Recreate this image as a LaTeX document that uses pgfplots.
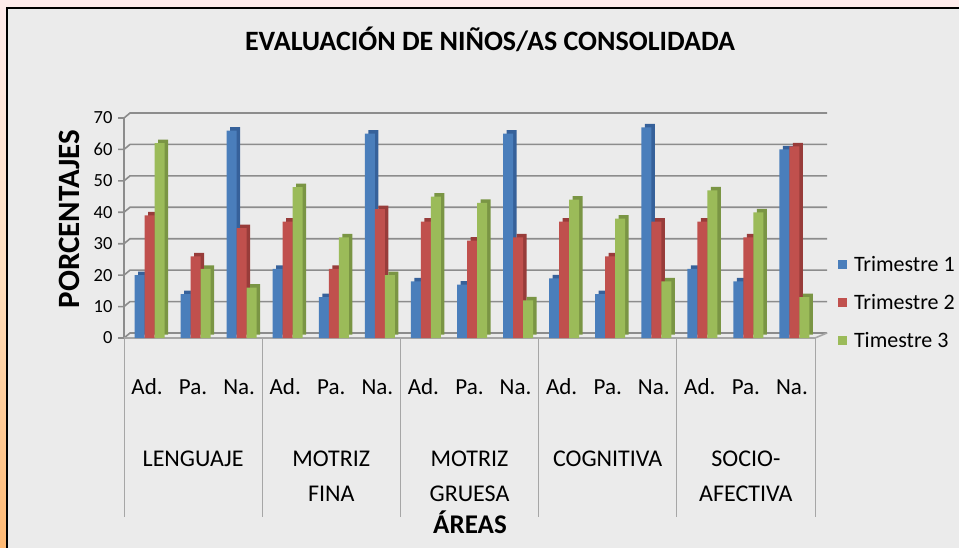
\documentclass[border=0pt]{standalone}
\usepackage{fontspec}
\setmainfont{Carlito}
\usepackage{pgfplots}
\usepackage{pgfplotstable}
\pgfplotsset{compat=1.18}

\definecolor{fondo}{HTML}{EBEBEB}
\definecolor{rejilla}{HTML}{8C8C8C}
\definecolor{separa}{HTML}{A6A6A6}
\definecolor{azul}{HTML}{4A7EBB}
\definecolor{azulosc}{HTML}{36619A}
\definecolor{rojo}{HTML}{C0504D}
\definecolor{rojoosc}{HTML}{983C3A}
\definecolor{verde}{HTML}{9BBB59}
\definecolor{verdeosc}{HTML}{7A9544}

% porcentajes por subcategoria (Ad., Pa., Na. de cada area)
\pgfplotstableread{
x  t1 t2 t3
0  20 39 62
1  14 26 22
2  66 35 16
3  22 37 48
4  13 22 32
5  65 41 20
6  18 37 45
7  17 31 43
8  65 32 12
9  19 37 44
10 14 26 38
11 67 37 18
12 22 37 47
13 18 32 40
14 60 61 13
}\datos

\begin{document}
\begin{tikzpicture}
\useasboundingbox (0pt,0pt) rectangle (959pt,547pt);
% marco exterior y area del grafico
\shade[top color=pink!30, bottom color=orange!55, middle color=orange!25] (0pt,-3pt) rectangle (962pt,547pt);
\fill[fondo] (7pt,-3pt) rectangle (962pt,539pt);
\draw[black, line width=1.2pt] (7pt,-3pt) -- (7pt,539pt) -- (962pt,539pt);

\node[font=\bfseries\fontsize{28}{32}\selectfont, anchor=base] at (490pt,496pt)
  {EVALUACIÓN DE NIÑOS/AS CONSOLIDADA};
\node[rotate=90, font=\bfseries\fontsize{31}{34}\selectfont] at (69pt,328pt) {PORCENTAJES};
\node[font=\bfseries\fontsize{27}{32}\selectfont, anchor=base] at (470pt,14pt) {ÁREAS};

\begin{axis}[
    at={(124pt,209pt)}, anchor=south west,
    scale only axis,
    width=691pt, height=220pt,
    xmin=-0.5, xmax=14.5,
    ymin=0, ymax=70,
    ytick={0,10,...,70},
    xtick={0,...,14},
    xticklabels={Ad.,Pa.,Na.,Ad.,Pa.,Na.,Ad.,Pa.,Na.,Ad.,Pa.,Na.,Ad.,Pa.,Na.},
    major tick length=0pt,
    axis line style={draw=none},
    clip=false,
    /pgf/number format/assume math mode=true,
    yticklabel style={font=\fontsize{18.5}{22}\selectfont, anchor=east, xshift=-8pt},
    xticklabel style={font=\fontsize{23}{27}\selectfont, anchor=base, yshift=-56pt},
    bar width=10pt,
    legend cell align=left,
    legend style={at={(axis description cs:1.033,0.372)}, anchor=north west,
        draw=none, fill=none, font=\fontsize{22}{26}\selectfont,
        row sep=21.5pt, inner sep=0pt, nodes={inner xsep=7pt, inner ysep=0pt}},
    legend image code/.code={\fill[#1] (0pt,-4.5pt) rectangle (9pt,4.5pt);},
]
% rejilla con efecto de profundidad
\pgfplotsinvokeforeach{0,10,...,70}{
  \draw[rejilla, line width=1.6pt]
    ([xshift=-6pt]axis cs:-0.5,#1) -- (axis cs:-0.5,#1)
    -- ([xshift=6pt,yshift=5pt]axis cs:-0.5,#1)
    -- ([xshift=12pt,yshift=5pt]axis cs:14.5,#1);
}
\draw[rejilla, line width=1.6pt] (axis cs:-0.5,0) -- (axis cs:-0.5,70);
\draw[separa, line width=1.6pt] (axis cs:-0.5,0) -- (axis cs:14.5,0)
  -- ([xshift=12pt,yshift=5pt]axis cs:14.5,0);
\pgfplotsinvokeforeach{-0.5,2.5,5.5,8.5,11.5,14.5}{
  \draw[separa, line width=1pt] (axis cs:#1,0) -- ([yshift=-179pt]axis cs:#1,0);
}

% barras: cara lateral (desplazada) y cara frontal
\addplot[ybar, bar shift=-4pt, fill=azulosc, draw=none, forget plot, yshift=3.5pt]
  table[x=x,y=t1]{\datos};
\addplot[ybar, bar shift=-7.5pt, fill=azul, draw=none]
  table[x=x,y=t1]{\datos};
\addlegendentry{Trimestre 1}
\addplot[ybar, bar shift=6pt, fill=rojoosc, draw=none, forget plot, yshift=3.5pt]
  table[x=x,y=t2]{\datos};
\addplot[ybar, bar shift=2.5pt, fill=rojo, draw=none]
  table[x=x,y=t2]{\datos};
\addlegendentry{Trimestre 2}
\addplot[ybar, bar shift=16pt, fill=verdeosc, draw=none, forget plot, yshift=3.5pt]
  table[x=x,y=t3]{\datos};
\addplot[ybar, bar shift=12.5pt, fill=verde, draw=none]
  table[x=x,y=t3]{\datos};
\addlegendentry{Timestre 3}

% nombres de las areas
\def\fa{\fontsize{24}{28}\selectfont}
\node[font=\fa, anchor=base] at ([yshift=-128pt]axis cs:1,0) {LENGUAJE};
\node[font=\fa, anchor=base] at ([yshift=-128pt]axis cs:4,0) {MOTRIZ};
\node[font=\fa, anchor=base] at ([yshift=-163pt]axis cs:4,0) {FINA};
\node[font=\fa, anchor=base] at ([yshift=-128pt]axis cs:7,0) {MOTRIZ};
\node[font=\fa, anchor=base] at ([yshift=-163pt]axis cs:7,0) {GRUESA};
\node[font=\fa, anchor=base] at ([yshift=-128pt]axis cs:10,0) {COGNITIVA};
\node[font=\fa, anchor=base] at ([yshift=-128pt]axis cs:13,0) {SOCIO-};
\node[font=\fa, anchor=base] at ([yshift=-163pt]axis cs:13,0) {AFECTIVA};
\end{axis}
\end{tikzpicture}
\end{document}
